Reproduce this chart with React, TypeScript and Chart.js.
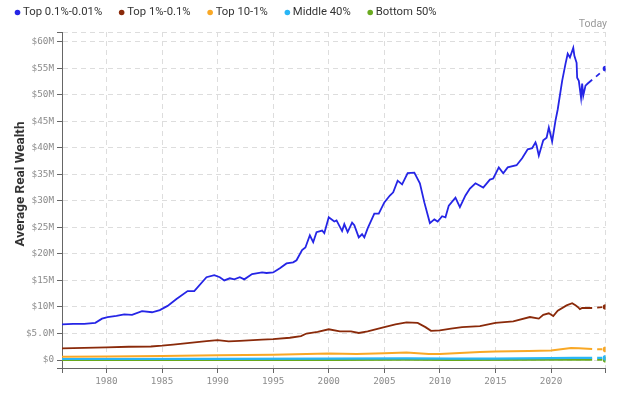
import React, { useEffect, useRef } from "react";
import { Chart, registerables } from "chart.js";

Chart.register(...registerables);

// ---- Data (values in $ millions, x in decimal years) ----
const seriesLabels = ["Top 0.1%-0.01%", "Top 1%-0.1%", "Top 10-1%", "Middle 40%", "Bottom 50%"];
const seriesColors = ["#2525e6", "#8a2a0a", "#f9a825", "#29b6f6", "#6aaa1f"];

const topPointOneYears = [1976, 1977, 1978, 1979, 1979.6, 1980.1, 1980.9, 1981.6, 1982.3, 1983.2, 1984.1, 1984.8, 1985.5, 1986.3, 1987.3, 1987.9, 1989.0, 1989.7, 1990.2, 1990.6, 1991.1, 1991.5, 1992.0, 1992.4, 1993.1, 1994.0, 1994.4, 1995.0, 1995.6, 1996.2, 1996.8, 1997.1, 1997.6, 1997.9, 1998.3, 1998.6, 1998.9, 1999.4, 1999.6, 2000.0, 2000.5, 2000.7, 2001.2, 2001.4, 2001.7, 2002.1, 2002.3, 2002.7, 2003.0, 2003.2, 2003.5, 2004.1, 2004.5, 2005.0, 2005.5, 2005.8, 2006.2, 2006.6, 2007.1, 2007.7, 2008.2, 2008.6, 2009.1, 2009.5, 2009.8, 2010.2, 2010.5, 2010.8, 2011.4, 2011.8, 2012.3, 2012.7, 2013.2, 2013.9, 2014.5, 2014.8, 2015.3, 2015.7, 2016.1, 2016.9, 2017.4, 2017.9, 2018.3, 2018.6, 2018.7, 2018.9, 2019.3, 2019.6, 2019.8, 2020.1, 2020.4, 2020.6, 2021.0, 2021.3, 2021.5, 2021.7, 2022.0, 2022.1, 2022.3, 2022.35, 2022.5, 2022.7, 2022.8, 2022.9, 2023.1, 2023.3, 2023.7, 2024.9];
const topPointOneValues = [6.7, 6.8, 6.8, 7.0, 7.8, 8.1, 8.3, 8.6, 8.5, 9.2, 9.0, 9.4, 10.2, 11.5, 13.0, 13.0, 15.6, 16.0, 15.6, 15.0, 15.4, 15.2, 15.6, 15.2, 16.2, 16.5, 16.4, 16.5, 17.3, 18.2, 18.4, 18.8, 20.7, 21.2, 23.5, 22.2, 24.1, 24.4, 23.9, 26.9, 26.1, 26.3, 24.3, 25.6, 24.1, 25.9, 25.4, 23.1, 23.7, 23.1, 24.8, 27.6, 27.6, 29.7, 31.0, 31.6, 33.8, 33.1, 35.2, 35.3, 33.3, 29.7, 25.8, 26.5, 26.1, 27.1, 26.9, 29.1, 30.6, 28.8, 31.0, 32.3, 33.3, 32.5, 34.0, 34.2, 36.3, 35.2, 36.3, 36.7, 38.0, 39.7, 39.9, 41.0, 40.4, 38.5, 41.4, 41.9, 43.8, 41.2, 45.1, 47.2, 52.6, 55.8, 57.7, 57.0, 58.8, 57.3, 56.0, 53.2, 52.6, 49.4, 52.1, 49.8, 51.7, 52.1, 52.8, 54.9];

const topOneYears = [1976, 1978, 1980, 1982, 1984, 1985, 1986, 1987.5, 1989, 1990, 1991, 1992, 1994, 1995, 1996.5, 1997.5, 1998, 1999, 2000, 2001, 2002, 2002.7, 2003.5, 2005, 2006, 2007, 2008, 2008.7, 2009.2, 2010, 2011, 2012, 2013.6, 2015, 2016.6, 2018.1, 2018.9, 2019.3, 2019.8, 2020.2, 2020.6, 2021.4, 2021.9, 2022.2, 2022.4, 2022.6, 2022.8, 2023.7, 2024.9];
const topOneValues = [2.2, 2.3, 2.4, 2.5, 2.55, 2.7, 2.9, 3.25, 3.55, 3.76, 3.5, 3.6, 3.85, 3.95, 4.2, 4.5, 5.0, 5.3, 5.8, 5.4, 5.4, 5.1, 5.4, 6.2, 6.7, 7.1, 7.0, 6.2, 5.5, 5.6, 5.9, 6.2, 6.4, 7.0, 7.3, 8.1, 7.8, 8.5, 8.8, 8.3, 9.3, 10.3, 10.7, 10.3, 10.0, 9.6, 9.8, 9.8, 10.0];

const topTenYears = [1976, 1980, 1985, 1990, 1995, 2000, 2002.5, 2005, 2007, 2009, 2010, 2013.6, 2015, 2018, 2020, 2021.8, 2022.5, 2023.7, 2024.9];
const topTenValues = [0.63, 0.68, 0.75, 0.88, 0.98, 1.25, 1.15, 1.3, 1.4, 1.15, 1.15, 1.5, 1.6, 1.7, 1.8, 2.25, 2.2, 2.07, 2.0];

const middleYears = [1976, 1990, 2000, 2007, 2011, 2015, 2020, 2022, 2023.7, 2024.9];
const middleValues = [0.2, 0.22, 0.28, 0.33, 0.25, 0.28, 0.35, 0.42, 0.42, 0.42];

const bottomYears = [1976, 2000, 2007, 2011, 2020, 2023.7, 2024.9];
const bottomValues = [0.03, 0.04, 0.05, 0.01, 0.05, 0.07, 0.07];

const yTickValues = [0, 5, 10, 15, 20, 25, 30, 35, 40, 45, 50, 55, 60];
const yTickLabels = ["$0", "$5.0M", "$10M", "$15M", "$20M", "$25M", "$30M", "$35M", "$40M", "$45M", "$50M", "$55M", "$60M"];
const xTickValues = [1980, 1985, 1990, 1995, 2000, 2005, 2010, 2015, 2020];
const xTickLabels = ["1980", "1985", "1990", "1995", "2000", "2005", "2010", "2015", "2020"];
const yAxisTitle = "Average Real Wealth";
const todayLabel = "Today";

const X_MIN = 1976;
const X_MAX = 2024.9;
const Y_MIN = -1.5;
const Y_MAX = 61.8;

const legendPlugin = {
  id: "dotLegend",
  afterDraw(chart: any) {
    const ctx = chart.ctx as CanvasRenderingContext2D;
    ctx.save();
    ctx.font = "11.3px Roboto";
    ctx.textBaseline = "middle";
    ctx.textAlign = "left";
    let x = 17.5;
    const y = 12.5;
    chart.data.datasets.forEach((ds: any) => {
      ctx.fillStyle = ds.borderColor;
      ctx.beginPath();
      ctx.arc(x, y, 2.8, 0, Math.PI * 2);
      ctx.fill();
      ctx.fillStyle = "#333";
      const tx = x + 5.5;
      ctx.fillText(ds.label, tx, y);
      x = tx + ctx.measureText(ds.label).width + 19.5;
    });
    ctx.font = "10.5px Roboto";
    ctx.fillStyle = "#999";
    ctx.textAlign = "right";
    ctx.fillText(todayLabel, chart.chartArea.right + 1.5, chart.chartArea.top - 8);

    // y-axis title
    ctx.translate(21, 184);
    ctx.rotate(-Math.PI / 2);
    ctx.font = "bold 13.5px Roboto";
    ctx.fillStyle = "#333";
    ctx.textAlign = "center";
    ctx.textBaseline = "middle";
    ctx.fillText(yAxisTitle, 0, 0);
    ctx.restore();
  },
};

function makeSeries(i: number, years: number[], values: number[], width: number) {
  const n = years.length;
  return {
    label: seriesLabels[i],
    data: years.map((x, k) => ({ x, y: values[k] })),
    borderColor: seriesColors[i],
    backgroundColor: seriesColors[i],
    pointBackgroundColor: seriesColors[i],
    borderWidth: width,
    pointRadius: (c: any) => (c.dataIndex === n - 1 ? 2.8 : 0),
    pointHoverRadius: 0,
    pointBorderWidth: 0,
    tension: 0,
    segment: {
      borderDash: (c: any) => (c.p1DataIndex === n - 1 ? [5, 5] : undefined),
      borderDashOffset: (c: any) => (c.p1DataIndex === n - 1 ? 5 : undefined),
    },
  };
}

export default function App() {
  const ref = useRef<HTMLCanvasElement>(null);
  useEffect(() => {
    document.body.style.margin = "0";
    const tickFont = { family: "'DejaVu Sans Mono', monospace", size: 9.3 };
    const chart = new Chart(ref.current as HTMLCanvasElement, {
      type: "line",
      data: {
        datasets: [
          makeSeries(0, topPointOneYears, topPointOneValues, 1.8),
          makeSeries(1, topOneYears, topOneValues, 1.8),
          makeSeries(2, topTenYears, topTenValues, 2),
          makeSeries(3, middleYears, middleValues, 2.2),
          makeSeries(4, bottomYears, bottomValues, 2.2),
        ] as any,
      },
      options: {
        animation: false,
        responsive: false,
        events: [],
        layout: { padding: { top: 32, right: 14.5, left: 0, bottom: 0 } },
        plugins: {
          legend: { display: false },
          tooltip: { enabled: false },
        },
        scales: {
          x: {
            type: "linear",
            min: X_MIN,
            max: X_MAX,
            afterBuildTicks: (scale: any) => {
              scale.ticks = [X_MIN, ...xTickValues, X_MAX].map((value) => ({ value }));
            },
            afterFit: (scale: any) => {
              scale.height = 31;
            },
            ticks: {
              autoSkip: false,
              maxRotation: 0,
              padding: 3,
              color: "#8c8c8c",
              font: tickFont,
              callback: (v: any) => {
                const i = xTickValues.indexOf(Number(v));
                return i >= 0 ? xTickLabels[i] : "";
              },
            },
            grid: {
              color: "#dddddd",
              lineWidth: 1,
              tickLength: 5,
              tickColor: "#666",
              tickBorderDash: [],
            },
            border: { display: true, color: "#666", width: 1, dash: [5, 4] },
          },
          y: {
            type: "linear",
            min: Y_MIN,
            max: Y_MAX,
            afterBuildTicks: (scale: any) => {
              scale.ticks = [Y_MIN, ...yTickValues, Y_MAX].map((value) => ({ value }));
            },
            afterFit: (scale: any) => {
              scale.width = 62;
            },
            ticks: {
              autoSkip: false,
              padding: 3,
              color: "#8c8c8c",
              font: tickFont,
              callback: (v: any) => {
                const i = yTickValues.indexOf(Number(v));
                return i >= 0 ? yTickLabels[i] : "";
              },
            },
            grid: {
              color: "#dddddd",
              lineWidth: 1,
              tickLength: 5,
              tickColor: "#666",
              tickBorderDash: [],
            },
            border: { display: true, color: "#666", width: 1, dash: [5, 4] },
          },
        },
      } as any,
      plugins: [legendPlugin],
    });
    return () => chart.destroy();
  }, []);
  return <canvas ref={ref} width={620} height={399} style={{ display: "block" }} />;
}
